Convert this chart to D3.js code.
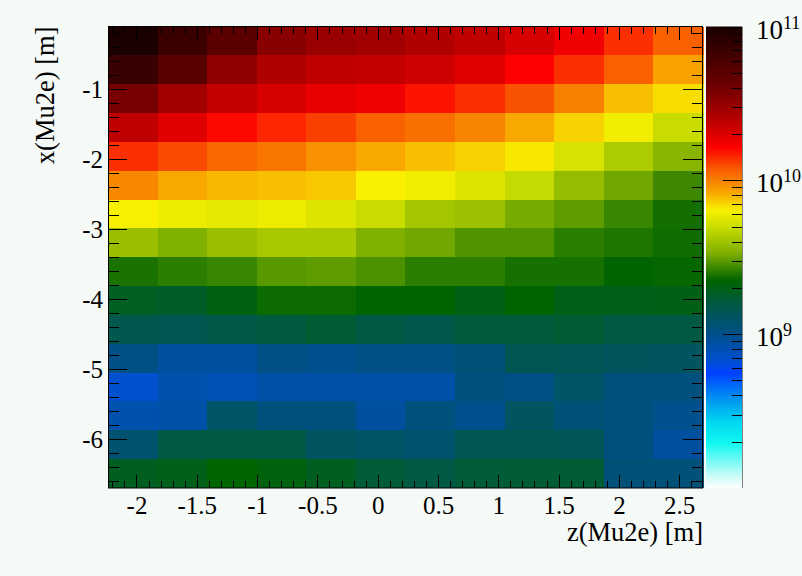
<!DOCTYPE html>
<html>
<head>
<meta charset="utf-8">
<script src="https://cdn.jsdelivr.net/npm/d3@7"></script>
<style>
  body { margin: 0; background: #f5faf7; }
  svg { display: block; }
  text { font-family: "Liberation Serif", "Times New Roman", serif; fill: #000; }
</style>
</head>
<body>
<svg id="chart" width="802" height="576"></svg>
<script>
// bin centres (metres)
const zCenters = [-2.031, -1.619, -1.208, -0.797, -0.386, 0.025, 0.436, 0.847, 1.258, 1.669, 2.081, 2.492];
const xCenters = [-0.309, -0.721, -1.133, -1.545, -1.957, -2.369, -2.781, -3.193,
                  -3.605, -4.017, -4.429, -4.841, -5.253, -5.665, -6.077, -6.489];

// cell contents in units of 1e9, one row per x bin (top row first)
const counts = [
  [98, 70, 50, 34, 30, 29, 26, 23.6, 20.6, 17.8, 13.8, 11.6],
  [71.8, 51.5, 32.4, 26, 23.6, 23.1, 21.6, 19.6, 16.4, 13.8, 11.6, 8.55],
  [38.3, 29, 23.1, 20.6, 18.7, 17.8, 15.3, 13.8, 12.2, 9.95, 7.6, 6.85],
  [23.6, 19.6, 15.9, 14.2, 13, 11.6, 10.7, 9.75, 8.26, 7.14, 6.14, 4.95],
  [13.8, 12.6, 11.1, 10.5, 9.2, 8.26, 7.6, 7.14, 6.58, 5.38, 4.26, 3.51],
  [9.62, 8.26, 7.82, 7.6, 7.4, 6.4, 6.14, 5.5, 4.85, 3.76, 3.21, 2.72],
  [6.4, 6.0, 5.77, 6.0, 5.5, 4.95, 4.08, 3.92, 3.27, 3.03, 2.68, 2.38],
  [3.84, 3.37, 3.84, 4.17, 4.17, 3.37, 3.21, 2.89, 2.89, 2.57, 2.48, 2.35],
  [2.43, 2.57, 2.68, 2.97, 3.03, 2.85, 2.57, 2.57, 2.40, 2.40, 2.24, 2.27],
  [1.86, 1.78, 2.05, 2.32, 2.32, 2.24, 2.24, 1.99, 2.24, 1.95, 1.95, 1.99],
  [1.45, 1.42, 1.52, 1.58, 1.70, 1.55, 1.48, 1.62, 1.62, 1.70, 1.55, 1.55],
  [1.03, 0.89, 0.89, 1.03, 0.98, 1.03, 1.03, 1.12, 1.42, 1.38, 1.32, 1.29],
  [0.68, 0.82, 0.79, 0.85, 0.85, 0.85, 0.85, 1.08, 1.03, 1.24, 1.08, 1.08],
  [0.82, 0.85, 1.24, 1.08, 1.08, 0.89, 1.08, 0.98, 1.29, 1.12, 1.08, 0.98],
  [1.18, 1.55, 1.55, 1.55, 1.29, 1.24, 1.18, 1.42, 1.42, 1.38, 1.08, 0.89],
  [1.88, 1.95, 2.24, 2.09, 1.88, 1.66, 1.55, 1.66, 1.70, 1.70, 1.12, 1.12]
];

const zTicks = [-2, -1.5, -1, -0.5, 0, 0.5, 1, 1.5, 2, 2.5];
const zTickLabels = ["-2", "-1.5", "-1", "-0.5", "0", "0.5", "1", "1.5", "2", "2.5"];
const xTicks = [-1, -2, -3, -4, -5, -6];
const xTickLabels = ["-1", "-2", "-3", "-4", "-5", "-6"];
const colorTicks = [1e9, 1e10, 1e11];
const colorTickExp = ["9", "10", "11"];

// palette stops: position along log axis (0 = 1e8, 1 = 1e11) and colour
const palPos = [0, 0.024, 0.097, 0.141, 0.19, 0.249, 0.277, 0.342, 0.40, 0.45,
                0.509, 0.565, 0.602, 0.639, 0.688, 0.738, 0.797, 0.868, 1.0];
const palCol = ["#ffffff", "#d0fcf8", "#10f8f0", "#00d8f0", "#0098f0", "#0040ff", "#0050d0",
                "#005080", "#005a40", "#006400", "#80b000", "#c8dc00", "#f8f000", "#f8a800",
                "#f86000", "#ff0000", "#b80000", "#700000", "#180000"];

const W = 802, H = 576;
const padL = 108, padR = 703, padT = 26.5, padB = 488;
const barL = 706, barR = 742;

const svg = d3.select("#chart");
svg.append("rect").attr("width", W).attr("height", H).attr("fill", "#f5faf7");

const x = d3.scaleLinear().domain([-2.236, 2.697]).range([padL, padR]);
const y = d3.scaleLinear().domain([-6.696, -0.103]).range([padB, padT]);
const zScale = d3.scaleLog().domain([1e8, 1e11]).range([padB, padT]);
const palette = d3.scaleLinear().domain(palPos).range(palCol).clamp(true);
const colorOf = v => palette((Math.log10(v * 1e9) - 8) / 3);

const zBin = zCenters[1] - zCenters[0];
const xBin = xCenters[0] - xCenters[1];

// cells
const cells = [];
counts.forEach((row, i) => row.forEach((v, j) => cells.push({ z: zCenters[j], x: xCenters[i], v })));
svg.append("g").selectAll("rect")
  .data(cells)
  .enter()
  .append("rect")
  .attr("x", d => x(d.z - zBin / 2))
  .attr("y", d => y(d.x + xBin / 2))
  .attr("width", d => x(d.z + zBin / 2) - x(d.z - zBin / 2) + 0.5)
  .attr("height", d => y(d.x - xBin / 2) - y(d.x + xBin / 2) + 0.5)
  .attr("fill", d => colorOf(d.v))
  .attr("shape-rendering", "crispEdges");

// minor tick values
const zMinor = d3.range(-22, 27).map(d => d / 10).filter(d => Math.abs(d * 2 - Math.round(d * 2)) > 1e-6);
const xMinor = d3.range(-33, 0).map(d => d / 5).filter(d => Math.abs(d - Math.round(d)) > 1e-6);

function tickAxis(axis, transform, values, size) {
  const g = svg.append("g")
    .attr("transform", transform)
    .call(axis.tickValues(values).tickSize(size).tickFormat(""))
    .attr("color", "#000");
  g.select(".domain").remove();
  g.selectAll("line").attr("shape-rendering", "crispEdges");
  return g;
}

// x (z) axis: bottom and top, ticks inside
const gx = tickAxis(d3.axisBottom(x), `translate(0,${padB})`, zTicks, -13);
tickAxis(d3.axisBottom(x), `translate(0,${padB})`, zMinor, -7);
tickAxis(d3.axisTop(x), `translate(0,${padT})`, zTicks, -13);
tickAxis(d3.axisTop(x), `translate(0,${padT})`, zMinor, -7);
gx.selectAll("text")
  .text((d, i) => zTickLabels[i])
  .attr("y", 26).attr("dy", null)
  .attr("font-size", 25)
  .attr("font-family", "Liberation Serif");

// y (x) axis: left and right
const gy = tickAxis(d3.axisLeft(y), `translate(${padL},0)`, xTicks, -19);
tickAxis(d3.axisLeft(y), `translate(${padL},0)`, xMinor, -11);
tickAxis(d3.axisRight(y), `translate(${padR},0)`, xTicks, -20);
tickAxis(d3.axisRight(y), `translate(${padR},0)`, xMinor, -11);
gy.selectAll("text")
  .text((d, i) => xTickLabels[i])
  .attr("x", -5).attr("dy", 8.5)
  .attr("text-anchor", "end")
  .attr("font-size", 25)
  .attr("font-family", "Liberation Serif");

// frame
svg.append("rect")
  .attr("x", padL + 0.5).attr("y", padT)
  .attr("width", padR - padL - 1).attr("height", padB - padT)
  .attr("fill", "none").attr("stroke", "#000").attr("stroke-width", 1);

// colour bar
const grad = svg.append("defs").append("linearGradient")
  .attr("id", "pal").attr("x1", 0).attr("y1", 1).attr("x2", 0).attr("y2", 0);
grad.selectAll("stop").data(palPos).enter().append("stop")
  .attr("offset", d => d)
  .attr("stop-color", (d, i) => palCol[i]);
svg.append("rect")
  .attr("x", barL).attr("y", padT)
  .attr("width", barR - barL).attr("height", padB - padT)
  .attr("fill", "url(#pal)");

const zMinorTicks = [];
[1e8, 1e9, 1e10].forEach(p => d3.range(2, 10).forEach(k => zMinorTicks.push(k * p)));
tickAxis(d3.axisRight(zScale), `translate(${barR},0)`, colorTicks, -19);
tickAxis(d3.axisRight(zScale), `translate(${barR},0)`, zMinorTicks, -10);
svg.append("line")
  .attr("x1", barR + 0.5).attr("x2", barR + 0.5)
  .attr("y1", padT).attr("y2", padB)
  .attr("stroke", "#808080");

const lab = svg.append("g").selectAll("text")
  .data(colorTicks)
  .enter()
  .append("text")
  .attr("x", 756)
  .attr("y", d => zScale(d) + 12)
  .attr("font-size", 27);
lab.append("tspan").text("10");
lab.append("tspan").text((d, i) => colorTickExp[i]).attr("font-size", 18).attr("dy", -10);

// axis titles
svg.append("text")
  .attr("text-anchor", "end")
  .attr("x", padR).attr("y", 541)
  .attr("font-size", 26.5)
  .text("z(Mu2e) [m]");
svg.append("text")
  .attr("text-anchor", "end")
  .attr("transform", `translate(54,${padT}) rotate(-90)`)
  .attr("font-size", 26.5)
  .text("x(Mu2e) [m]");
</script>
</body>
</html>
